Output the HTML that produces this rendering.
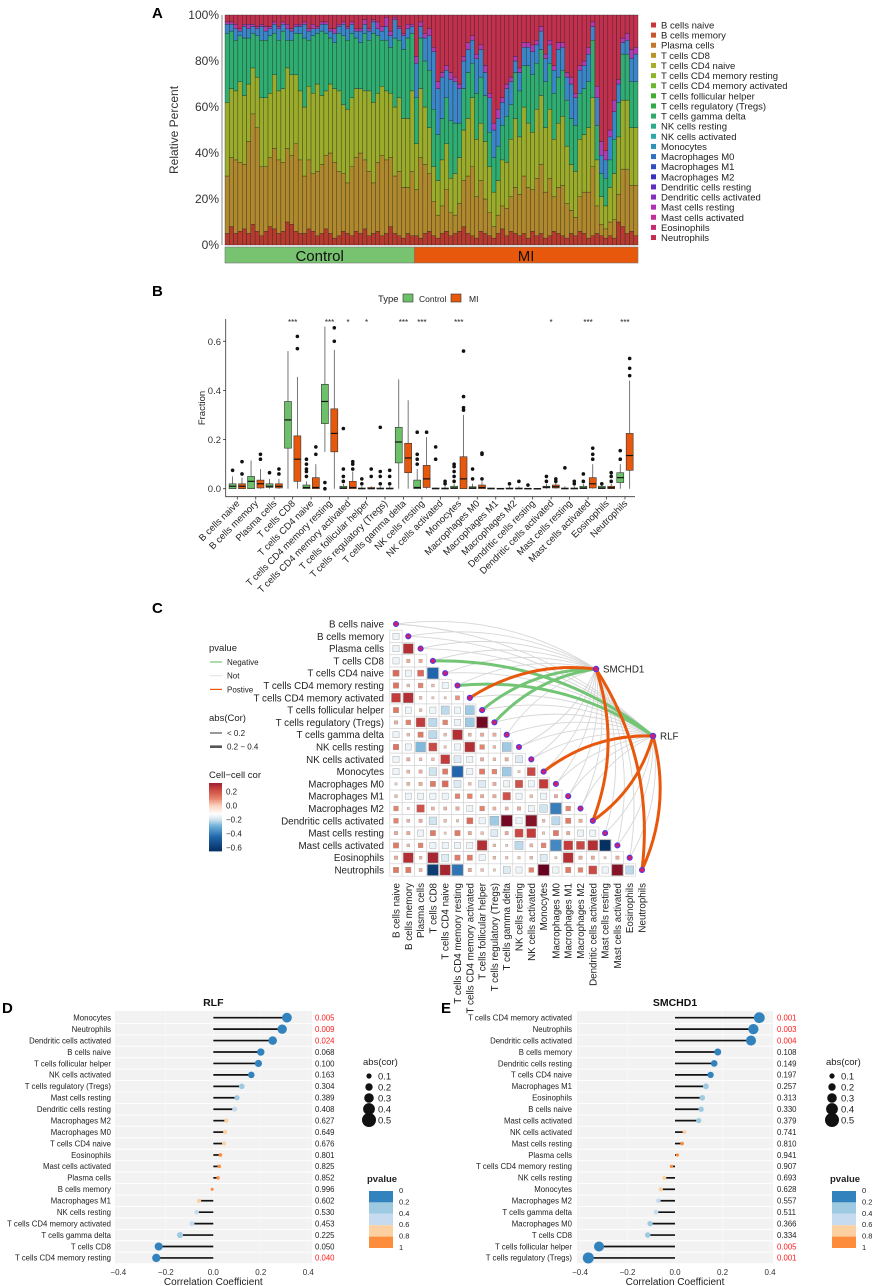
<!DOCTYPE html>
<html><head><meta charset="utf-8"><style>
html,body{margin:0;padding:0;background:#fff;}
svg{display:block;font-family:"Liberation Sans",Arial,sans-serif;}
</style></head><body>
<svg id="fig" width="872" height="1286" viewBox="0 0 872 1286">
<text x="152" y="18" font-size="15" font-weight="bold">A</text>
<text x="152" y="296" font-size="15" font-weight="bold">B</text>
<text x="152" y="613" font-size="15" font-weight="bold">C</text>
<text x="2" y="1013" font-size="15" font-weight="bold">D</text>
<text x="441" y="1013" font-size="15" font-weight="bold">E</text>
<g id="pa"></g>
<g id="pb"></g>
<g id="pc"></g>
<g id="pd"></g>
<g id="pe"></g>
</svg>
<script>
// ---------- Panel A data ----------
const aGroups = ["B cells naive","T cells CD8","T cells CD4 memory resting","T cells gamma delta","Monocytes","Mast cells activated","Neutrophils"];
const aCtrlN = 44;
const aBcell = [0.05,0.08,0.05,0.06,0.07,0.05,0.09,0.06,0.04,0.06,0.08,0.07,0.05,0.06,0.1,0.09,0.06,0.05,0.05,0.07,0.06,0.04,0.05,0.07,0.05,0.03,0.04,0.06,0.05,0.04,0.06,0.05,0.07,0.04,0.05,0.06,0.04,0.05,0.08,0.05,0.04,0.03,0.05,0.04,
0.04,0.03,0.05,0.06,0.04,0.03,0.05,0.06,0.04,0.05,0.06,0.08,0.05,0.04,0.03,0.06,0.05,0.04,0.03,0.05,0.07,0.04,0.06,0.05,0.04,0.05,0.03,0.06,0.04,0.05,0.03,0.04,0.06,0.05,0.04,0.03,0.05,0.04,0.06,0.05,0.03,0.04,0.05,0.04,0.03,0.04,0.03,0.1,0.08,0.05,0.06,0.04];
const aCd8 = [0.25,0.3,0.32,0.3,0.28,0.4,0.48,0.45,0.3,0.28,0.3,0.35,0.32,0.3,0.32,0.3,0.38,0.32,0.25,0.3,0.25,0.28,0.3,0.32,0.35,0.33,0.28,0.25,0.22,0.3,0.32,0.35,0.3,0.28,0.22,0.3,0.35,0.32,0.3,0.25,0.28,0.22,0.2,0.28,
0.2,0.35,0.3,0.25,0.15,0.1,0.12,0.18,0.1,0.08,0.12,0.2,0.25,0.3,0.18,0.22,0.15,0.1,0.05,0.08,0.1,0.12,0.15,0.2,0.18,0.25,0.22,0.18,0.25,0.3,0.2,0.25,0.15,0.2,0.22,0.15,0.1,0.08,0.15,0.18,0.2,0.3,0.12,0.05,0.04,0.06,0.08,0.12,0.25,0.28,0.2,0.22];
const aCd4 = [0.32,0.3,0.3,0.35,0.3,0.25,0.2,0.22,0.3,0.3,0.28,0.32,0.3,0.32,0.35,0.35,0.3,0.3,0.3,0.32,0.35,0.38,0.3,0.28,0.3,0.32,0.35,0.3,0.32,0.3,0.3,0.28,0.3,0.35,0.35,0.3,0.3,0.3,0.28,0.3,0.32,0.3,0.3,0.35,
0.2,0.3,0.25,0.2,0.15,0.15,0.2,0.2,0.15,0.18,0.2,0.22,0.25,0.3,0.25,0.25,0.25,0.2,0.15,0.15,0.2,0.2,0.25,0.3,0.25,0.3,0.28,0.25,0.3,0.3,0.28,0.3,0.25,0.28,0.3,0.25,0.2,0.2,0.25,0.25,0.28,0.3,0.2,0.12,0.1,0.15,0.2,0.25,0.3,0.3,0.25,0.25];
const aGreen = [0.3,0.25,0.22,0.2,0.25,0.2,0.15,0.18,0.25,0.25,0.25,0.18,0.22,0.25,0.12,0.15,0.18,0.25,0.3,0.2,0.25,0.22,0.28,0.25,0.2,0.2,0.25,0.3,0.3,0.28,0.22,0.2,0.25,0.22,0.3,0.25,0.2,0.22,0.2,0.3,0.25,0.3,0.35,0.25,
0.2,0.22,0.2,0.25,0.25,0.2,0.18,0.2,0.25,0.22,0.15,0.18,0.2,0.15,0.2,0.2,0.2,0.15,0.15,0.15,0.15,0.2,0.15,0.2,0.2,0.18,0.25,0.25,0.2,0.2,0.2,0.2,0.2,0.2,0.2,0.2,0.2,0.2,0.2,0.2,0.2,0.25,0.15,0.1,0.12,0.12,0.15,0.15,0.2,0.2,0.2,0.2];
const aBlue = [0.04,0.03,0.05,0.02,0.05,0.04,0.03,0.03,0.06,0.04,0.03,0.04,0.05,0.03,0.05,0.04,0.03,0.03,0.06,0.04,0.03,0.02,0.03,0.04,0.03,0.04,0.03,0.05,0.05,0.04,0.03,0.05,0.04,0.04,0.05,0.03,0.04,0.06,0.05,0.08,0.05,0.06,0.04,0.03,
0.15,0.05,0.1,0.15,0.25,0.2,0.18,0.12,0.18,0.18,0.15,0.12,0.1,0.1,0.15,0.12,0.1,0.15,0.12,0.12,0.1,0.12,0.1,0.05,0.08,0.08,0.08,0.1,0.08,0.08,0.1,0.08,0.1,0.12,0.1,0.1,0.15,0.12,0.1,0.1,0.12,0.06,0.12,0.08,0.08,0.1,0.12,0.08,0.05,0.06,0.1,0.12];
const aMag = [0.01,0.01,0.02,0.01,0.01,0.02,0.01,0.01,0.01,0.02,0.01,0.01,0.01,0.01,0.02,0.01,0.01,0.01,0.01,0.01,0.02,0.01,0.01,0.01,0.01,0.02,0.01,0.01,0.01,0.01,0.01,0.01,0.02,0.01,0.01,0.03,0.02,0.04,0.02,0.01,0.01,0.01,0.02,0.01,
0.03,0.02,0.02,0.03,0.02,0.03,0.02,0.02,0.03,0.02,0.02,0.02,0.03,0.02,0.02,0.02,0.03,0.02,0.03,0.04,0.02,0.02,0.02,0.02,0.02,0.02,0.02,0.03,0.02,0.02,0.02,0.02,0.02,0.03,0.02,0.02,0.03,0.02,0.02,0.02,0.03,0.02,0.05,0.06,0.04,0.03,0.05,0.02,0.02,0.03,0.04,0.03];
const aLegend = ["B cells naive","B cells memory","Plasma cells","T cells CD8","T cells CD4 naive","T cells CD4 memory resting","T cells CD4 memory activated","T cells follicular helper","T cells regulatory (Tregs)","T cells gamma delta","NK cells resting","NK cells activated","Monocytes","Macrophages M0","Macrophages M1","Macrophages M2","Dendritic cells resting","Dendritic cells activated","Mast cells resting","Mast cells activated","Eosinophils","Neutrophils"];
const aLegendColors = ["#c8383a","#c8552e","#c2772c","#b8952a","#a8ad2a","#8cb52c","#6cb52e","#40ae30","#2eac48","#2eaa6a","#2eaa8c","#2ea8a8","#2e92ba","#2e70c2","#2e4ec2","#3a30c0","#5e2ec2","#862ec2","#b02eb8","#c42e98","#c42e70","#c42e4c"];
const aFill = ["#b83a2e","#b0892c","#9aac2a","#2fae72","#3a86c8","#b03bb2","#c2304e"];

// ---------- Panel B data ----------
const bNames = aLegend;
const bCtrl = [[0,0,0.01,0.02,0.05],[0,0,0.03,0.05,0.115],[0,0.005,0.01,0.02,0.04],[0,0.165,0.28,0.355,0.56],[0,0,0.005,0.015,0.03],[0.15,0.265,0.355,0.425,0.66],[0,0,0.003,0.01,0.02],[0,0,0,0.003,0.01],[0,0,0,0.003,0.01],[0,0.105,0.19,0.25,0.445],[0,0,0.005,0.035,0.08],[0,0,0,0.003,0.005],[0,0,0.003,0.01,0.02],[0,0,0.003,0.008,0.02],[0,0,0,0.003,0.005],[0,0,0,0.003,0.01],[0,0,0,0.002,0.003],[0,0.003,0.006,0.01,0.02],[0,0,0,0.003,0.01],[0,0,0.003,0.01,0.02],[0,0,0.003,0.01,0.015],[0,0.025,0.045,0.065,0.1]];
const bMI = [[0,0,0.01,0.02,0.045],[0,0.003,0.02,0.035,0.08],[0,0.003,0.01,0.02,0.04],[0,0.03,0.12,0.215,0.455],[0,0,0.005,0.045,0.1],[0,0.15,0.225,0.325,0.565],[0,0,0.005,0.03,0.07],[0,0,0,0.005,0.01],[0,0,0,0.003,0.01],[0,0.065,0.125,0.185,0.36],[0,0.005,0.04,0.095,0.21],[0,0,0,0.003,0.01],[0,0,0.04,0.13,0.3],[0,0,0.005,0.015,0.03],[0,0,0,0.002,0.003],[0,0,0,0.003,0.01],[0,0,0,0.001,0.002],[0,0.003,0.008,0.015,0.025],[0,0,0,0.003,0.01],[0,0.003,0.02,0.045,0.1],[0,0,0.004,0.01,0.02],[0,0.075,0.135,0.225,0.44]];
const bCtrlOut = [[0.075],[],[0.065],[],[0.05,0.07,0.08,0.1,0.12],[0,0.025],[0.03,0.05,0.08,0.245],[0.02,0.04],[0.02,0.05,0.07,0.25],[],[0.1,0.12,0.14,0.23],[0.12,0.17],[0.03,0.05,0.07,0.09,0.1],[0.04,0.08],[],[0.02],[0.015],[0.03,0.05],[0.085],[0.03,0.06],[0.02],[0.12,0.155]];
const bMIOut = [[0.06,0.11],[0.12,0.14],[0.06,0.08],[0.57,0.62],[0.14,0.17],[0.6,0.655],[0.08,0.1,0.11],[0.05,0.08],[0.02,0.05,0.075],[],[0.23],[0.02,0.03],[0.32,0.33,0.375,0.56],[0.04,0.14,0.145],[],[0.03],[],[0.03,0.04],[0.02,0.03],[0.12,0.14,0.165],[0.03,0.05,0.065],[0.46,0.49,0.53]];
const bStars = ["","","","***","","***","*","*","","***","***","","***","","","","","*","","***","","***"];
const bTicks = [0,0.2,0.4,0.6];

// ---------- Panel C data ----------
const cNames = ["B cells naive","B cells memory","Plasma cells","T cells CD8","T cells CD4 naive","T cells CD4 memory resting","T cells CD4 memory activated","T cells follicular helper","T cells regulatory (Tregs)","T cells gamma delta","NK cells resting","NK cells activated","Monocytes","Macrophages M0","Macrophages M1","Macrophages M2","Dendritic cells activated","Mast cells resting","Mast cells activated","Eosinophils","Neutrophils"];
const cCor = [[],[-0.15],[-0.15,0.28],[-0.15,0.05,0.05],[0.15,-0.15,0.15,-0.45],[0.13,0.03,0.1,0.03,-0.15],[0.25,0.28,0.03,0.01,0.01,0.08],[0.12,-0.15,0.03,-0.15,-0.22,-0.15,-0.25],[0.05,0.1,0.25,-0.22,0.1,-0.15,-0.25,0.38],[-0.15,0.03,0.12,-0.22,0.03,0.28,0.04,0.05,0.05],[0.13,-0.15,-0.28,0.22,0.02,-0.15,0.28,0.1,0.03,-0.25],[-0.15,0.05,0.03,0.03,0.25,-0.18,-0.15,0.05,0.03,0.05,-0.18],[-0.15,0.04,0.05,-0.2,0.12,-0.45,-0.15,0.12,0.1,-0.25,0.01,0.22],[0.01,0.04,0.05,0.12,0.15,-0.18,0.03,-0.18,0.05,-0.15,0.2,-0.15,0.25],[0.03,-0.15,-0.15,-0.15,-0.15,0.1,0.1,0.05,0.05,0.2,-0.15,0.03,-0.15,0.05],[0.1,0.01,0.2,0.04,0.04,0.05,-0.15,0.1,0.04,0.04,0.05,-0.15,-0.2,-0.4,0.1],[0.1,0.04,0.05,-0.2,0.03,0.02,0.15,-0.15,-0.25,0.38,-0.15,0.35,0.03,-0.22,0.12,0.05],[0.05,0.05,-0.15,0.12,0.01,0.12,0.05,0.03,-0.18,0.05,0.22,0.25,0.02,0.12,0.05,-0.15,-0.15],[0.12,0.03,0.1,-0.15,-0.15,-0.15,-0.15,0.28,0.03,0.01,-0.22,0.04,0.1,-0.38,0.25,0.22,0.28,-0.65],[0.05,0.28,0.03,0.3,-0.18,0.12,0.12,-0.15,0.03,0.02,0.02,0.03,-0.18,0.01,0.28,0.05,0.05,0.01,0.05],[0.12,0.12,0.04,-0.6,0.3,-0.42,0.05,0.03,0.01,-0.18,-0.15,0.1,0.4,-0.15,0.12,0.1,0.22,-0.15,0.35,-0.22]];
const cGenes = ["SMCHD1","RLF"];
const cSigCell = [3,5,7,8,6,12,16,16,20,20];
const cSigGene = [1,1,0,0,0,1,0,1,0,1];
const cSigType = ["neg","neg","neg","neg","pos","pos","pos","pos","pos","pos"];

// ---------- Panel D / E data ----------
const dNames = ["Monocytes","Neutrophils","Dendritic cells activated","B cells naive","T cells follicular helper","NK cells activated","T cells regulatory (Tregs)","Mast cells resting","Dendritic cells resting","Macrophages M2","Macrophages M0","T cells CD4 naive","Eosinophils","Mast cells activated","Plasma cells","B cells memory","Macrophages M1","NK cells resting","T cells CD4 memory activated","T cells gamma delta","T cells CD8","T cells CD4 memory resting"];
const dCor = [0.31,0.29,0.25,0.2,0.19,0.16,0.12,0.1,0.09,0.055,0.05,0.045,0.03,0.025,0.02,-0.005,-0.06,-0.07,-0.09,-0.14,-0.23,-0.24];
const dP = [0.005,0.009,0.024,0.068,0.100,0.163,0.304,0.389,0.408,0.627,0.649,0.676,0.801,0.825,0.852,0.996,0.602,0.530,0.453,0.225,0.050,0.040];
const eNames = ["T cells CD4 memory activated","Neutrophils","Dendritic cells activated","B cells memory","Dendritic cells resting","T cells CD4 naive","Macrophages M1","Eosinophils","B cells naive","Mast cells activated","NK cells activated","Mast cells resting","Plasma cells","T cells CD4 memory resting","NK cells resting","Monocytes","Macrophages M2","T cells gamma delta","Macrophages M0","T cells CD8","T cells follicular helper","T cells regulatory (Tregs)"];
const eCor = [0.355,0.33,0.32,0.18,0.165,0.15,0.13,0.115,0.11,0.1,0.04,0.03,0.01,-0.015,-0.045,-0.06,-0.07,-0.08,-0.105,-0.115,-0.32,-0.365];
const eP = [0.001,0.003,0.004,0.108,0.149,0.197,0.257,0.313,0.330,0.379,0.741,0.810,0.941,0.907,0.693,0.628,0.557,0.511,0.366,0.334,0.005,0.001];
const lolTicks = [-0.4,-0.2,0.0,0.2,0.4];
const sizeLegend = [0.1,0.2,0.3,0.4,0.5];
const pLegend = [0,0.2,0.4,0.6,0.8,1];

const NS = "http://www.w3.org/2000/svg";
function mk(tag, attrs, parent, text){
  const e = document.createElementNS(NS, tag);
  for (const k in attrs) e.setAttribute(k, attrs[k]);
  if (text !== undefined) e.textContent = text;
  parent.appendChild(e);
  return e;
}

// ================= Panel A =================
(function(){
  const g = document.getElementById('pa');
  const x0 = 225, x1 = 638, yTop = 15, yBot = 245;
  const n = aBcell.length, bw = (x1 - x0) / n;
  const ys = v => yBot - v * (yBot - yTop);
  const xs = i => x0 + i * bw;
  let e;
  e = mk('line', {x1:222, y1:yTop, x2:222, y2:yBot, stroke:'#888', 'stroke-width':1}, g);
  
  
  [0,0.2,0.4,0.6,0.8,1].forEach(t => {
    const lab = mk('text', {x:219, y:ys(t)+4, 'font-size':12, 'text-anchor':'end', fill:'#333'}, g, Math.round(t*100)+'%');
    
    
  });
  e = mk('text', {x:0, y:0, 'font-size':12, 'text-anchor':'middle', fill:'#333', transform:'translate(178,130) rotate(-90)'}, g, 'Relative Percent');
  
  
  const series = [aBcell, aCd8, aCd4, aGreen, aBlue, aMag];
  for (let i = 0; i < n; i++) {
    let vals = series.map(s => s[i]);
    let sum = vals.reduce((a,b)=>a+b,0);
    if (sum > 1) { vals = vals.map(v => v / sum); sum = 1; }
    vals.push(1 - sum);
    let cum = 0;
    vals.forEach((v, k) => {
      const r = mk('rect', {x:xs(i), y:ys(cum+v), width:bw, height:Math.max(0, ys(cum)-ys(cum+v)), fill:aFill[k], stroke:'#222', 'stroke-width':0.35}, g);
      
      
      cum += v;
    });
  }
  const xm = xs(aCtrlN);
  e = mk('rect', {x:x0, y:247, width:xm-x0, height:16, fill:'#77c36f', stroke:'#777', 'stroke-width':0.6}, g);
  
  
  e = mk('rect', {x:xm, y:247, width:x1-xm, height:16, fill:'#e8580c', stroke:'#777', 'stroke-width':0.6}, g);
  
  
  e = mk('text', {x:(x0+xm)/2, y:261, 'font-size':15, 'text-anchor':'middle', fill:'#111'}, g, 'Control');
  
  
  e = mk('text', {x:(xm+x1)/2, y:261, 'font-size':15, 'text-anchor':'middle', fill:'#111'}, g, 'MI');
  
  
  aLegend.forEach((nm, k) => {
    const y = 25 + k * 10.12;
    const s = mk('rect', {x:651, y:y-2.5, width:5, height:5, fill:aLegendColors[k]}, g);
    
    
    const t = mk('text', {x:661, y:y+3.5, 'font-size':9.5, fill:'#222'}, g, nm);
    
    
  });
})();

// ================= Panel B =================
(function(){
  const g = document.getElementById('pb');
  const y0 = 488.7, per = 245.7; // px per 1.0
  const ys = v => y0 - v * per;
  const cx = i => 237.3 + i * 18.46;
  let e;
  e = mk('text', {x:378, y:302, 'font-size':9.5, fill:'#222'}, g, 'Type');
  
  
  e = mk('rect', {x:403, y:294, width:10, height:8, fill:'#6cc06a', stroke:'#333', 'stroke-width':0.6}, g);
  
  
  e = mk('text', {x:419, y:302, 'font-size':8.5, fill:'#222'}, g, 'Control');
  
  
  e = mk('rect', {x:451, y:294, width:10, height:8, fill:'#e8580c', stroke:'#333', 'stroke-width':0.6}, g);
  
  
  e = mk('text', {x:469, y:302, 'font-size':8.5, fill:'#222'}, g, 'MI');
  
  
  e = mk('path', {d:'M225.7 319 V496.7 H635', fill:'none', stroke:'#333', 'stroke-width':0.8}, g);
  
  
  bTicks.forEach(t => {
    const l = mk('line', {x1:223, x2:225.7, y1:ys(t), y2:ys(t), stroke:'#333', 'stroke-width':0.8}, g);
    
    
    const tx = mk('text', {x:221, y:ys(t)+3.5, 'font-size':9.5, 'text-anchor':'end', fill:'#333'}, g, t.toFixed(1));
    
    
  });
  e = mk('text', {x:0, y:0, 'font-size':9.5, 'text-anchor':'middle', fill:'#222', transform:'translate(205,408) rotate(-90)'}, g, 'Fraction');
  
  
  function box(c, st, outs, fill){
    const w = 7;
    let el = mk('line', {x1:c, x2:c, y1:ys(st[4]), y2:ys(st[0]), stroke:'#555', 'stroke-width':0.8}, g);
    
    
    el = mk('rect', {x:c-w/2, y:ys(st[3]), width:w, height:Math.max(0.8, ys(st[1])-ys(st[3])), fill:fill, stroke:'#333', 'stroke-width':0.6}, g);
    
    
    el = mk('line', {x1:c-w/2, x2:c+w/2, y1:ys(st[2]), y2:ys(st[2]), stroke:'#111', 'stroke-width':1.2}, g);
    
    
    outs.forEach(o => {
      const d = mk('circle', {cx:c, cy:ys(o), r:1.8, fill:'#111'}, g);
      
      
    });
  }
  bNames.forEach((nm, i) => {
    const c = cx(i);
    box(c - 4.7, bCtrl[i], bCtrlOut[i], '#6cc06a');
    box(c + 4.7, bMI[i], bMIOut[i], '#e8580c');
    const tk = mk('line', {x1:c, x2:c, y1:496.7, y2:499.5, stroke:'#333', 'stroke-width':0.8}, g);
    
    
    const lb = mk('text', {x:0, y:0, 'font-size':9.5, 'text-anchor':'end', fill:'#222', transform:`translate(${c+3},${504}) rotate(-45)`}, g, nm);
    
    
    if (bStars[i]) {
      const s = mk('text', {x:c, y:325, 'font-size':8, 'text-anchor':'middle', fill:'#222'}, g, bStars[i]);
      
      
    }
  });
})();

// ================= Panel C =================
(function(){
  const g = document.getElementById('pc');
  const px = j => 396 + j * 12.3;
  const py = i => 624 + i * 12.3;
  const genePos = [[596,669],[653,736]];
  const stops = [[-0.65,[5,48,97]],[-0.45,[33,102,172]],[-0.3,[106,174,214]],[-0.2,[209,229,240]],[-0.12,[255,255,255]],[0,[251,208,189]],[0.1,[231,130,106]],[0.25,[196,59,59]],[0.4,[103,0,31]]];
  function col(v){
    if (v <= stops[0][0]) return 'rgb('+stops[0][1]+')';
    for (let k=1;k<stops.length;k++){
      if (v <= stops[k][0]) {
        const a = stops[k-1], b = stops[k], t = (v-a[0])/(b[0]-a[0]);
        return 'rgb('+a[1].map((c,m)=>Math.round(c+(b[1][m]-c)*t)).join(',')+')';
      }
    }
    return 'rgb('+stops[stops.length-1][1]+')';
  }
  let e;
  // grid + squares
  cCor.forEach((row, i) => {
    row.forEach((v, j) => {
      const c = mk('rect', {x:px(j)-6.15, y:py(i)-6.15, width:12.3, height:12.3, fill:'#fff', stroke:'#cfcfcf', 'stroke-width':0.6}, g);
      
      
      const s = Math.min(11, 2 + Math.abs(v) * 28);
      const q = mk('rect', {x:px(j)-s/2, y:py(i)-s/2, width:s, height:s, fill:col(v), stroke:'#9a9a9a', 'stroke-width':0.4}, g);
      
      
    });
  });
  function curve(i, gi){
    const P = [px(i), py(i)], G = genePos[gi];
    const dx = G[0]-P[0], dy = G[1]-P[1], L = Math.hypot(dx,dy);
    let n = [dy/L, -dx/L];
    if (n[0] - n[1] < 0) n = [-n[0], -n[1]];
    const k = 0.18 * L;
    const C = [(P[0]+G[0])/2 + n[0]*k, (P[1]+G[1])/2 + n[1]*k];
    return `M${P[0]} ${P[1]} Q${C[0]} ${C[1]} ${G[0]} ${G[1]}`;
  }
  const isSig = (i, gi) => cSigCell.some((c,k) => c === i && cSigGene[k] === gi);
  cNames.forEach((nm, i) => {
    [0,1].forEach(gi => {
      if (!isSig(i, gi)) {
        const p = mk('path', {d:curve(i, gi), fill:'none', stroke:'#d6d6d6', 'stroke-width':0.9}, g);
        
        
      }
    });
  });
  cSigCell.forEach((ci, k) => {
    const p = mk('path', {d:curve(ci, cSigGene[k]), fill:'none', stroke: cSigType[k]==='neg' ? '#74c476' : '#e8580c', 'stroke-width':3}, g);
    
    
  });
  cNames.forEach((nm, i) => {
    const d = mk('circle', {cx:px(i), cy:py(i), r:2.6, fill:'#d0206a', stroke:'#3a3aff', 'stroke-width':0.9}, g);
    
    
    const rl = mk('text', {x:384, y:py(i)+3.5, 'font-size':9.8, 'text-anchor':'end', fill:'#222'}, g, nm);
    
    
    const cl = mk('text', {x:0, y:0, 'font-size':9.8, 'text-anchor':'end', fill:'#222', transform:`translate(${px(i)+3.5},883) rotate(-90)`}, g, nm);
    
    
  });
  cGenes.forEach((gn, gi) => {
    const d = mk('circle', {cx:genePos[gi][0], cy:genePos[gi][1], r:2.8, fill:'#d0206a', stroke:'#3a3aff', 'stroke-width':0.9}, g);
    
    
    const t = mk('text', {x:genePos[gi][0]+7, y:genePos[gi][1]+3.5, 'font-size':9.8, fill:'#222'}, g, gn);
    
    
  });
  // legends
  e = mk('text', {x:209, y:651, 'font-size':9.5, fill:'#222'}, g, 'pvalue');
  
  
  [['Negative','#74c476'],['Not','#e4e4e4'],['Postive','#e8580c']].forEach((it, k) => {
    const y = 662 + k*13.7;
    const l = mk('line', {x1:210, x2:222, y1:y, y2:y, stroke:it[1], 'stroke-width':1.2}, g);
    
    
    const t = mk('text', {x:227, y:y+3, 'font-size':8, fill:'#222'}, g, it[0]);
    
    
  });
  e = mk('text', {x:209, y:721, 'font-size':9.5, fill:'#222'}, g, 'abs(Cor)');
  
  
  [['< 0.2',1.2],['0.2 − 0.4',2.6]].forEach((it, k) => {
    const y = 733 + k*13.7;
    const l = mk('line', {x1:210, x2:222, y1:y, y2:y, stroke:'#555', 'stroke-width':it[1]}, g);
    
    
    const t = mk('text', {x:227, y:y+3, 'font-size':8, fill:'#222'}, g, it[0]);
    
    
  });
  e = mk('text', {x:209, y:778, 'font-size':9.5, fill:'#222'}, g, 'Cell−cell cor');
  
  
  const cbTop = 783, cbBot = 851, vTop = 0.32, vBot = -0.65;
  for (let k = 0; k < 40; k++) {
    const v = vTop - (vTop - vBot) * (k + 0.5) / 40;
    const r = mk('rect', {x:209, y:cbTop + k*(cbBot-cbTop)/40, width:13, height:(cbBot-cbTop)/40+0.4, fill:col(v)}, g);
    
    
  }
  [0.2,0,-0.2,-0.4,-0.6].forEach(t => {
    const y = cbTop + (vTop - t)/(vTop - vBot)*(cbBot-cbTop);
    const tx = mk('text', {x:226, y:y+3, 'font-size':8, fill:'#222'}, g, t===0?'0.0':(t<0?'−'+Math.abs(t).toFixed(1):t.toFixed(1)));
    
    
  });
})();

// ================= Panels D & E =================
function pcol(p){ return p < 0.2 ? '#3182bd' : p < 0.4 ? '#9ecae1' : p < 0.6 ? '#c6dbef' : p < 0.8 ? '#fdd0a2' : '#fd8d3c'; }
function lollipop(gid, title, names, cor, pv, o){
  const g = document.getElementById(gid);
  const xs = v => o.zero + v * 237.5;
  const ys = i => 1017.7 + i * 11.44;
  let e;
  e = mk('rect', {x:o.left, y:1011, width:o.right-o.left, height:253, fill:'#f2f2f2'}, g);
  
  
  names.forEach((nm, i) => {
    const gl = mk('line', {x1:o.left, x2:o.right, y1:ys(i)+5.7, y2:ys(i)+5.7, stroke:'#fff', 'stroke-width':0.9}, g);
    
    
  });
  lolTicks.forEach(t => {
    const vl = mk('line', {x1:xs(t), x2:xs(t), y1:1011, y2:1264, stroke:'#fafafa', 'stroke-width':0.6}, g);
    
    
    const tx = mk('text', {x:xs(t), y:1275, 'font-size':8, 'text-anchor':'middle', fill:'#333'}, g, t === 0 ? '0.0' : (t < 0 ? '−' + Math.abs(t).toFixed(1) : t.toFixed(1)));
    
    
  });
  e = mk('text', {x:o.zero, y:1006, 'font-size':10.5, 'font-weight':'bold', 'text-anchor':'middle', fill:'#111'}, g, title);
  
  
  e = mk('text', {x:o.zero, y:1285, 'font-size':10, 'text-anchor':'middle', fill:'#222'}, g, 'Correlation Coefficient');
  
  
  names.forEach((nm, i) => {
    const y = ys(i);
    const lb = mk('text', {x:o.labelX, y:y+2.8, 'font-size':7.8, 'text-anchor':'end', fill:'#222'}, g, nm);
    
    
    const seg = mk('line', {x1:xs(0), x2:xs(cor[i]), y1:y, y2:y, stroke:'#111', 'stroke-width':1.7}, g);
    
    
    const c = mk('circle', {cx:xs(cor[i]), cy:y, r:1.5 + Math.abs(cor[i]) * 11, fill:pcol(pv[i])}, g);
    
    
    const pt = mk('text', {x:o.pX, y:y+2.8, 'font-size':7.8, fill: pv[i] < 0.05 ? '#ff1a1a' : '#222'}, g, pv[i].toFixed(3));
    
    
  });
  e = mk('text', {x:o.legX - 6, y:1065, 'font-size':9.5, fill:'#222'}, g, 'abs(cor)');
  
  
  sizeLegend.forEach((s, k) => {
    const y = 1076 + k * 11;
    const c = mk('circle', {cx:o.legX, cy:y, r:1.5 + s * 11, fill:'#111'}, g);
    
    
    const t = mk('text', {x:o.legX + 9, y:y+3.5, 'font-size':9.5, fill:'#222'}, g, s.toFixed(1));
    
    
  });
  e = mk('text', {x:o.legX - 2, y:1182, 'font-size':9.5, 'font-weight':'bold', fill:'#222'}, g, 'pvalue');
  
  
  [0.1,0.3,0.5,0.7,0.9].forEach((v, k) => {
    const r = mk('rect', {x:o.legX, y:1191 + k*11.4, width:24, height:11.4, fill:pcol(v)}, g);
    
    
  });
  pLegend.forEach((p, k) => {
    const t = mk('text', {x:o.legX + 30, y:1193 + k*11.4, 'font-size':7.5, fill:'#222'}, g, String(p));
    
    
  });
}
lollipop('pd', 'RLF', dNames, dCor, dP, {left:115, right:312, zero:213.3, labelX:111, pX:315, legX:369});
lollipop('pe', 'SMCHD1', eNames, eCor, eP, {left:577, right:773, zero:675, labelX:572, pX:777, legX:832});
</script>
</body></html>
